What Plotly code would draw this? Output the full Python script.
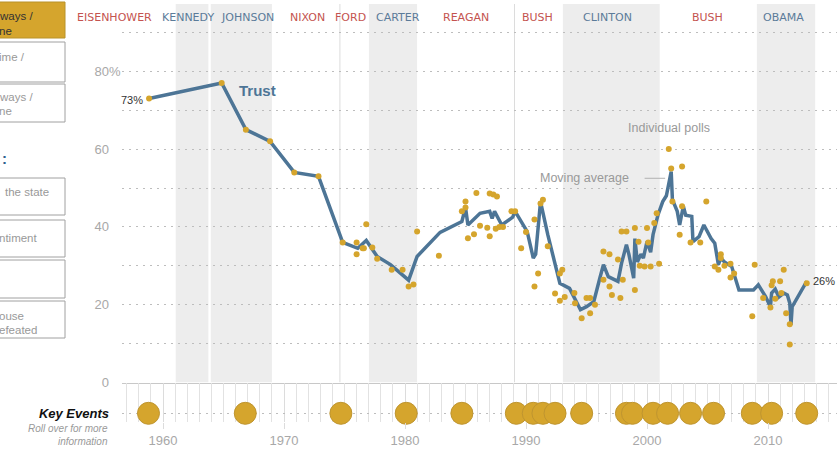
import plotly.graph_objects as go

# ---------------- data ----------------
ma_years = [1958.85, 1964.85, 1966.85, 1968.85, 1970.85, 1972.85, 1974.85, 1976.1, 1976.8, 1977.7,
            1978.8, 1980.3, 1981.0, 1982.9, 1984.7, 1985.0, 1985.2, 1986.2, 1987.0, 1987.2,
            1987.4, 1988.0, 1988.9, 1989.1, 1990.1, 1990.6, 1990.8, 1991.2, 1991.8, 1992.8,
            1993.6, 1994.5, 1995.0, 1995.6, 1996.1, 1996.4, 1996.8, 1997.6, 1997.9, 1998.3,
            1998.5, 1998.9, 1999.0, 1999.2, 1999.5, 1999.7, 2000.0, 2000.3, 2000.5, 2000.9,
            2001.3, 2001.6, 2002.0, 2002.1, 2002.5, 2002.7, 2003.0, 2003.2, 2003.7, 2003.8,
            2004.3, 2004.7, 2005.3, 2005.6, 2005.9, 2006.1, 2006.4, 2007.0, 2007.6, 2008.8,
            2009.2, 2009.8, 2010.2, 2010.3, 2010.6, 2010.9, 2011.3, 2011.6, 2011.8, 2011.9,
            2012.0, 2013.2]
ma_values = [73, 77, 65, 62, 54, 53, 36, 34.5, 36.5, 32.4,
             30.3, 26.3, 32.4, 38.6, 41.4, 45, 40.5, 43.5, 44, 42.2,
             44, 40.5, 42.5, 44, 38.8, 32, 33, 46.5, 38, 25.5,
             24.2, 18.7, 19.5, 20.8, 26.8, 30.3, 27.2, 26, 30.7, 35.4,
             33, 26.8, 37, 31, 33, 32, 36.2, 33.5, 38, 43,
             46.5, 48, 54.2, 47, 44, 40.5, 45.3, 43, 42.7, 36.2,
             37.5, 40.5, 37, 35.8, 30.3, 32, 31, 29.8, 23.8, 23.8,
             25.1, 22.1, 19.5, 23, 24, 22, 23, 22.5, 20.4, 14.8,
             19.5, 26]

poll_years = [1958.85, 1964.85, 1966.85, 1968.85, 1970.85, 1972.85, 1974.85,
              1976.0, 1976.0, 1976.5, 1976.8, 1976.6, 1977.3, 1977.7, 1978.9, 1979.8, 1980.3, 1980.7,
              1981.0, 1982.8, 1984.7, 1985.0, 1985.0, 1985.2, 1985.7, 1985.9, 1986.2, 1986.8,
              1987.0, 1987.3, 1987.0, 1987.6, 1987.5, 1987.8, 1988.1, 1988.8, 1989.1, 1989.6,
              1990.0, 1990.7, 1990.7, 1991.0, 1991.2, 1991.4, 1991.8, 1992.8, 1993.0, 1992.4,
              1992.8, 1993.2, 1994.0, 1994.05, 1994.6, 1995.0, 1995.3, 1995.3, 1995.7, 1996.4,
              1996.4, 1996.9, 1996.9, 1997.1, 1997.8, 1997.6, 1998.0, 1997.9, 1998.3, 1999.0,
              1999.0, 1999.3, 1999.4, 1999.8, 2000.3, 2000.0, 2000.1, 2000.6, 2000.8, 2001.0,
              2001.8, 2002.0, 2002.9, 2002.1, 2002.9, 2002.7, 2003.6, 2004.4, 2004.9, 2005.6,
              2005.9, 2006.1, 2006.1, 2006.4, 2006.9, 2006.9, 2007.2, 2008.9, 2008.7, 2009.6,
              2010.3, 2010.4, 2010.2, 2010.6, 2011.0, 2011.1, 2011.5, 2011.3, 2011.8, 2011.8,
              2013.2]
poll_values = [73, 77, 65, 62, 54, 53, 36,
               36, 33, 34.5, 40.7, 34.5, 34.7, 31.8, 29, 29, 24.7, 25.2,
               38.8, 32.6, 44, 46.5, 45, 37.1, 38.1, 48.7, 40.3, 39.8,
               48.6, 48.3, 37.6, 47.8, 39.5, 40, 40, 44, 44, 34.5,
               38.7, 41.9, 24.7, 28, 46, 47, 35, 28, 29, 22.9,
               21, 22, 23, 20.4, 16.5, 21.7, 21.7, 17.8, 20, 33.7,
               26.4, 33, 24.7, 22.5, 21.7, 31.6, 26.4, 38.8, 38.8, 39.7,
               23.8, 36.2, 30, 29.8, 29.8, 39.7, 36, 41, 43.5, 30.5,
               60, 55, 55.5, 46.5, 45.3, 38, 36, 36, 46.5, 29.8,
               29, 33, 32, 30, 30.5, 27, 28, 30.3, 17, 21.7,
               25, 26, 19.3, 21.5, 26, 23, 17.8, 29, 15, 9.8,
               25.5]

event_years = [1958.8, 1966.8, 1974.7, 1980.1, 1984.7, 1989.2, 1990.6, 1991.4, 1992.4, 1994.6,
               1998.3, 1998.8, 2000.5, 2001.7, 2003.6, 2005.5, 2008.7, 2010.3, 2013.2]

presidents = ["EISENHOWER", "KENNEDY", "JOHNSON", "NIXON", "FORD", "CARTER",
              "REAGAN", "BUSH", "CLINTON", "BUSH", "OBAMA"]
president_party = ["R", "D", "D", "R", "R", "D", "R", "R", "D", "R", "D"]
president_label_px = [114, 188, 247, 307, 350, 398, 466, 537, 607, 707, 783]

dem_bands = [(1961.05, 1963.75), (1963.95, 1969.0), (1977.02, 1981.0), (1993.05, 2001.05), (2009.08, 2013.9)]
transition_lines = [1974.62, 1989.05]

y_tickvals = [0, 20, 40, 60, 80]
y_ticktext = ["0", "20", "40", "60", "80"]
x_tickvals = [1960, 1970, 1980, 1990, 2000, 2010]

# ---------------- geometry helpers ----------------
W, H = 837, 449
ML, MR, MT, MB = 122, 0, 4, 27
PW, PH = W - ML - MR, H - MT - MB
PX_PER_YEAR = 12.1
X0 = 1960 - (163 - ML) / PX_PER_YEAR
X1 = X0 + PW / PX_PER_YEAR
Y_BOTTOM_PX = 382.5
main_dom0 = (H - MB - Y_BOTTOM_PX) / PH
YMAX = (Y_BOTTOM_PX - MT) / 3.89


def pxx(px):
    return (px - ML) / PW


def pxy(py):
    return (H - MB - py) / PH


GOLD = "#d5a52d"
BLUE = "#4d7596"
RED = "#c4534f"
DBLUE = "#5b7b99"
GRAY = "#a8a8a8"

fig = go.Figure()

fig.add_trace(go.Scatter(x=ma_years, y=ma_values, mode="lines",
                         line=dict(color=BLUE, width=3.5), hoverinfo="skip",
                         xaxis="x", yaxis="y"))
fig.add_trace(go.Scatter(x=poll_years, y=poll_values, mode="markers",
                         marker=dict(color=GOLD, size=6), xaxis="x", yaxis="y"))
fig.add_trace(go.Scatter(x=event_years, y=[0.22] * len(event_years), mode="markers",
                         marker=dict(color=GOLD, size=22, line=dict(color="#bf9530", width=1)),
                         cliponaxis=False, xaxis="x2", yaxis="y2"))

shapes = []
for a, b in dem_bands:
    shapes.append(dict(type="rect", xref="x", yref="y", x0=a, x1=b, y0=0, y1=YMAX,
                       fillcolor="#ededed", line=dict(width=0), layer="below"))
for t in transition_lines:
    shapes.append(dict(type="line", xref="x", yref="y", x0=t, x1=t, y0=0, y1=YMAX,
                       line=dict(color="#dcdcdc", width=1), layer="below"))
# connector for "Moving average"
shapes.append(dict(type="line", xref="x", yref="y", x0=1999.8, x1=2001.5, y0=52.5, y1=52.5,
                   line=dict(color="#b0b0b0", width=1)))

# sidebar boxes (cropped)
boxes = [(2, 38, True), (42, 82, False), (84, 122, False), (178, 215, False),
         (220, 257, False), (260, 298, False), (301, 338, False)]
for t, b, filled in boxes:
    shapes.append(dict(type="rect", xref="paper", yref="paper",
                       x0=pxx(-5), x1=pxx(65), y0=pxy(b), y1=pxy(t),
                       fillcolor=GOLD if filled else "white",
                       line=dict(color="#b8922a" if filled else "#a0a0a0", width=1)))

annotations = []
for name, party, px in zip(presidents, president_party, president_label_px):
    annotations.append(dict(text=name, xref="paper", yref="paper", x=pxx(px), y=pxy(18),
                            showarrow=False, xanchor="center", yanchor="middle",
                            font=dict(family="DejaVu Sans", size=11,
                                      color=RED if party == "R" else DBLUE)))

side_texts = [("ways /", 0, 16, "#333"), ("ne", 0, 31, "#333"),
              ("ime /", 0, 57, "#999"),
              ("ways /", 0, 97, "#999"), ("ne", 0, 111, "#999"),
              ("the state", 6, 192, "#999"), ("ntiment", 0, 238, "#999"),
              ("ouse", 0, 316, "#999"), ("efeated", 0, 330, "#999")]
for txt, px, py, col in side_texts:
    annotations.append(dict(text=txt, xref="paper", yref="paper", x=pxx(px), y=pxy(py),
                            showarrow=False, xanchor="left", yanchor="middle", xshift=-3,
                            font=dict(family="Liberation Sans", size=11.5, color=col)))
annotations.append(dict(text="<b>:</b>", xref="paper", yref="paper", x=pxx(0), y=pxy(158),
                        showarrow=False, xanchor="left", yanchor="middle",
                        font=dict(family="Liberation Sans", size=15, color="#2f5f8f")))

annotations += [
    dict(text="<b>Trust</b>", xref="x", yref="y", x=1966.1, y=75.1, showarrow=False,
         xanchor="left", yanchor="middle",
         font=dict(family="Liberation Sans", size=15, color=BLUE)),
    dict(text="73%", xref="x", yref="y", x=ma_years[0], y=72.5, showarrow=False,
         xanchor="right", yanchor="middle", xshift=-4,
         font=dict(family="Liberation Sans", size=11, color="#333")),
    dict(text="26%", xref="x", yref="y", x=ma_years[-1], y=ma_values[-1], showarrow=False,
         xanchor="left", yanchor="middle", xshift=4,
         font=dict(family="Liberation Sans", size=11, color="#333")),
    dict(text="Individual polls", xref="x", yref="y", x=2001.8, y=65.3, showarrow=False,
         xanchor="center", yanchor="middle",
         font=dict(family="Liberation Sans", size=12.5, color="#999")),
    dict(text="Moving average", xref="x", yref="y", x=1994.8, y=52.7, showarrow=False,
         xanchor="center", yanchor="middle",
         font=dict(family="Liberation Sans", size=12.5, color="#999")),
    dict(text="%", xref="paper", yref="y", x=pxx(107), y=80, showarrow=False,
         xanchor="left", yanchor="middle",
         font=dict(family="Liberation Sans", size=13, color=GRAY)),
    dict(text="<i>Roll over for more</i>", xref="paper", yref="paper", x=pxx(110), y=pxy(428),
         showarrow=False, xanchor="right", yanchor="middle",
         font=dict(family="Liberation Sans", size=10, color="#999")),
    dict(text="<i>information</i>", xref="paper", yref="paper", x=pxx(110), y=pxy(441),
         showarrow=False, xanchor="right", yanchor="middle",
         font=dict(family="Liberation Sans", size=10, color="#999")),
]

fig.update_layout(
    width=W, height=H,
    margin=dict(l=ML, r=MR, t=MT, b=MB),
    paper_bgcolor="white", plot_bgcolor="white",
    showlegend=False,
    shapes=shapes, annotations=annotations,
    xaxis=dict(range=[X0, X1], anchor="y", showgrid=False, zeroline=False,
               showline=True, linecolor="#c8c8c8", linewidth=1,
               showticklabels=False, ticks=""),
    yaxis=dict(range=[0, YMAX], domain=[main_dom0, 1], anchor="x",
               tickvals=y_tickvals, ticktext=y_ticktext, ticks="",
               ticklabelstandoff=12,
               tickfont=dict(family="Liberation Sans", size=13, color=GRAY),
               showgrid=True, gridcolor="#bdbdbd", gridwidth=1.3, griddash="2px,5px",
               minor=dict(dtick=10, tick0=0, showgrid=True, gridcolor="#bdbdbd",
                          gridwidth=1.3, griddash="2px,5px"),
               zeroline=False, showline=False),
    xaxis2=dict(range=[X0, X1], matches="x", anchor="y2",
                tickvals=x_tickvals, ticks="outside", ticklen=6, tickcolor="#dcdcdc",
                tickfont=dict(family="Liberation Sans", size=13, color=GRAY),
                showgrid=True, gridcolor="#dcdcdc", gridwidth=1,
                minor=dict(dtick=1, tick0=1960, showgrid=True, gridcolor="#e2e2e2", gridwidth=1),
                zeroline=False, showline=False),
    yaxis2=dict(range=[0, 1], domain=[0, main_dom0], anchor="x2",
                tickvals=[0.22], ticktext=["<b><i>Key Events</i></b>"], ticks="",
                ticklabelstandoff=12,
                tickfont=dict(family="Liberation Sans", size=13, color="#111"),
                showgrid=True, gridcolor="#bdbdbd", gridwidth=1.3, griddash="2px,5px",
                zeroline=False, showline=False),
)

fig.write_html("out.html", config={"displayModeBar": False},
               post_script="document.body.style.margin='0';document.body.style.overflow='hidden';")
